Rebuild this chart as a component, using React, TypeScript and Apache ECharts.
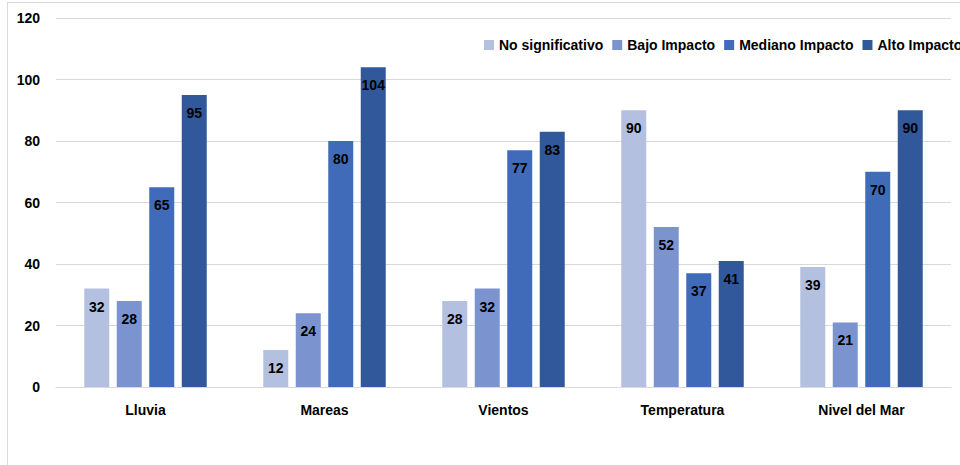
import React, { useEffect, useRef } from "react";
import * as echarts from "echarts";

const categories = ["Lluvia", "Mareas", "Vientos", "Temperatura", "Nivel del Mar"];
const seriesNames = ["No significativo", "Bajo Impacto", "Mediano Impacto", "Alto Impacto"];
const noSignificativo = [32, 12, 28, 90, 39];
const bajoImpacto = [28, 24, 32, 52, 21];
const medianoImpacto = [65, 80, 77, 37, 70];
const altoImpacto = [95, 104, 83, 41, 90];
const colors = ["#b4c0e0", "#7b93cf", "#3f6bb9", "#30589a"];

const FONT = "'Liberation Sans', Arial, sans-serif";

export default function App() {
  const ref = useRef<HTMLDivElement>(null);
  useEffect(() => {
    if (!ref.current) return;
    const chart = echarts.init(ref.current, null, { renderer: "svg" });
    const data = [noSignificativo, bajoImpacto, medianoImpacto, altoImpacto];
    chart.setOption({
      animation: false,
      textStyle: { fontFamily: FONT },
      legend: {
        left: 484,
        top: 38,
        width: 700,
        itemWidth: 10,
        itemHeight: 10,
        itemGap: 9,
        icon: "rect",
        padding: 0,
        textStyle: { fontFamily: FONT, fontSize: 14, fontWeight: "bold", color: "#000" },
        data: seriesNames,
      },
      grid: { left: 56, right: 49, top: 18, bottom: 78, containLabel: false },
      xAxis: {
        type: "category",
        data: categories,
        axisLine: { lineStyle: { color: "#d9d9d9", width: 1 } },
        axisTick: { show: false },
        axisLabel: { fontFamily: FONT, fontSize: 14, fontWeight: "bold", color: "#000", margin: 16 },
      },
      yAxis: {
        type: "value",
        min: 0,
        max: 120,
        interval: 20,
        axisLine: { show: false },
        axisTick: { show: false },
        splitLine: { lineStyle: { color: "#d9d9d9", width: 1 } },
        axisLabel: { fontFamily: FONT, fontSize: 14, fontWeight: "bold", color: "#000", margin: 16 },
      },
      series: seriesNames.map((name, i) => ({
        name,
        type: "bar",
        data: data[i],
        barWidth: 25,
        barGap: "30%",
        itemStyle: { color: colors[i] },
        label: {
          show: true,
          position: "insideTop",
          distance: 11,
          fontFamily: FONT,
          fontSize: 14,
          fontWeight: "bold",
          color: "#000",
        },
      })),
    });
    return () => chart.dispose();
  }, []);
  return (
    <div
      style={{
        position: "fixed",
        left: 0,
        top: 0,
        width: 960,
        height: 465,
        overflow: "hidden",
        background: "#fff",
      }}
    >
      <div
        style={{
          position: "absolute",
          left: 7,
          top: 2,
          width: 1200,
          height: 800,
          borderLeft: "1px solid #d9d9d9",
          borderTop: "1px solid #d9d9d9",
          boxSizing: "border-box",
        }}
      />
      <div
        ref={ref}
        style={{ position: "absolute", left: 0, top: 0, width: 1000, height: 465 }}
      />
    </div>
  );
}
